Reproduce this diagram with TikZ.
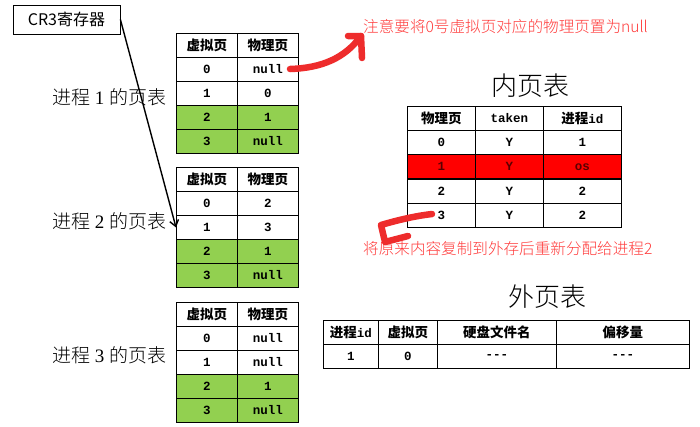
\documentclass[tikz,border=0pt]{standalone}
\usepackage{fontspec}
\setmainfont{Liberation Serif}
\newfontfamily\cjk{Noto Sans CJK SC}
\newfontfamily\cjkl{Noto Sans CJK SC Light}
\newfontfamily\mono{Liberation Mono}
\usetikzlibrary{arrows.meta}
\definecolor{tgreen}{HTML}{92D050}
\definecolor{penred}{HTML}{EE2C2C}
\definecolor{notered}{HTML}{FF3A3A}
\definecolor{rowred}{HTML}{FF0000}
\tikzset{
  cell/.style={draw, line width=0.9pt, minimum height=24pt, inner sep=0pt, anchor=north west},
  hd/.style={font=\cjk\bfseries\fontsize{13.5}{14}\selectfont},
  val/.style={font=\mono\bfseries\fontsize{12.5}{13}\selectfont},
  lbl/.style={font=\fontsize{19}{20}\selectfont, inner sep=0pt},
  ttl/.style={font=\cjkl\fontsize{26}{27}\selectfont, inner sep=0pt},
  note/.style={font=\cjkl\fontsize{15.6}{16}\selectfont, text=notered, inner sep=0pt, anchor=west},
  pen/.style={draw=penred, line width=6.5pt, line cap=round, line join=round},
}
\begin{document}
\begin{tikzpicture}[x=1pt,y=-1pt]
\path[use as bounding box, fill=white] (0,0) rectangle (700,426);

% CR3 register
\node[draw, line width=0.8pt, minimum width=107pt, minimum height=29pt, inner sep=0pt,
      font=\cjk\fontsize{16}{16}\selectfont] (cr3) at (66.5,19.5) {CR3寄存器};

% process page tables
\foreach \t/\y/\a/\b/\c/\d in {1/33/null/0/1/null, 2/167/2/3/1/null, 3/302/null/null/1/null}{
  \node[cell, hd, minimum width=61pt] (t\t-0-0) at (176,\y) {虚拟页};
  \node[cell, hd, minimum width=61pt] (t\t-0-1) at (237,\y) {物理页};
  \foreach \r/\v/\p/\f in {1/0/\a/white, 2/1/\b/white, 3/2/\c/tgreen, 4/3/\d/tgreen}{
    \node[cell, val, fill=\f, minimum width=61pt] (t\t-\r-0) at (176,{\y+24*\r}) {\v};
    \node[cell, val, fill=\f, minimum width=61pt] (t\t-\r-1) at (237,{\y+24*\r}) {\p};
  }
}
\node[lbl] (l1) at (109,97) {{\cjkl 进程} 1 {\cjkl 的页表}};
\node[lbl] (l2) at (109,221) {{\cjkl 进程} 2 {\cjkl 的页表}};
\node[lbl] (l3) at (109,355) {{\cjkl 进程} 3 {\cjkl 的页表}};

\draw[line width=1.4pt, -{Straight Barb[length=6pt,width=9pt]}] (cr3.east) -- (t2-2-0.west);

% inner page table
\node[ttl] (ttin) at (530,86) {内页表};
\node[cell, hd, minimum width=68pt] (in-0-0) at (407,106) {物理页};
\node[cell, val, minimum width=68pt] (in-0-1) at (475,106) {taken};
\node[cell, minimum width=78pt] (in-0-2) at (543,106) {{\cjk\bfseries\fontsize{13.5}{14}\selectfont 进程}{\mono\bfseries\fontsize{12.5}{13}\selectfont id}};
\foreach \r/\p/\k/\o/\f/\c in {1/0/Y/1/white/black, 2/1/Y/os/rowred/red!35!black, 3/2/Y/2/white/black, 4/3/Y/2/white/black}{
  \node[cell, val, fill=\f, text=\c, minimum width=68pt] (in-\r-0) at (407,{106+24.2*\r}) {\p};
  \node[cell, val, fill=\f, text=\c, minimum width=68pt] (in-\r-1) at (475,{106+24.2*\r}) {\k};
  \node[cell, val, fill=\f, text=\c, minimum width=78pt] (in-\r-2) at (543,{106+24.2*\r}) {\o};
}

% outer page table
\node[ttl] (ttout) at (547,297) {外页表};
\node[cell, minimum width=55pt] (ex-0-0) at (323,320) {{\cjk\bfseries\fontsize{13.5}{14}\selectfont 进程}{\mono\bfseries\fontsize{12.5}{13}\selectfont id}};
\node[cell, hd, minimum width=59pt] (ex-0-1) at (378,320) {虚拟页};
\node[cell, hd, minimum width=119pt] (ex-0-2) at (437,320) {硬盘文件名};
\node[cell, hd, minimum width=133pt] (ex-0-3) at (556,320) {偏移量};
\node[cell, val, minimum width=55pt] (ex-1-0) at (323,344) {1};
\node[cell, val, minimum width=59pt] (ex-1-1) at (378,344) {0};
\node[cell, val, minimum width=119pt] (ex-1-2) at (437,344) {-{}-{}-};
\node[cell, val, minimum width=133pt] (ex-1-3) at (556,344) {-{}-{}-};

% notes
\node[note] (n1) at (363,27) {注意要将0号虚拟页对应的物理页置为null};
\node[note] (n2) at (363,249) {将原来内容复制到外存后重新分配给进程2};

% hand-drawn red arrows
\coordinate (s1) at (290,69);
\coordinate (h1) at (361,36);
\draw[pen] (s1) .. controls (322,68) and (345,58) .. (h1);
\draw[pen] (348,36) -- (h1) -- (362,58);
\coordinate (s2) at (432,214);
\coordinate (h2) at (381,225);
\draw[pen] (s2) .. controls (415,216) and (398,220) .. (h2) -- (385,242) -- (408,236);
\end{tikzpicture}
\end{document}
